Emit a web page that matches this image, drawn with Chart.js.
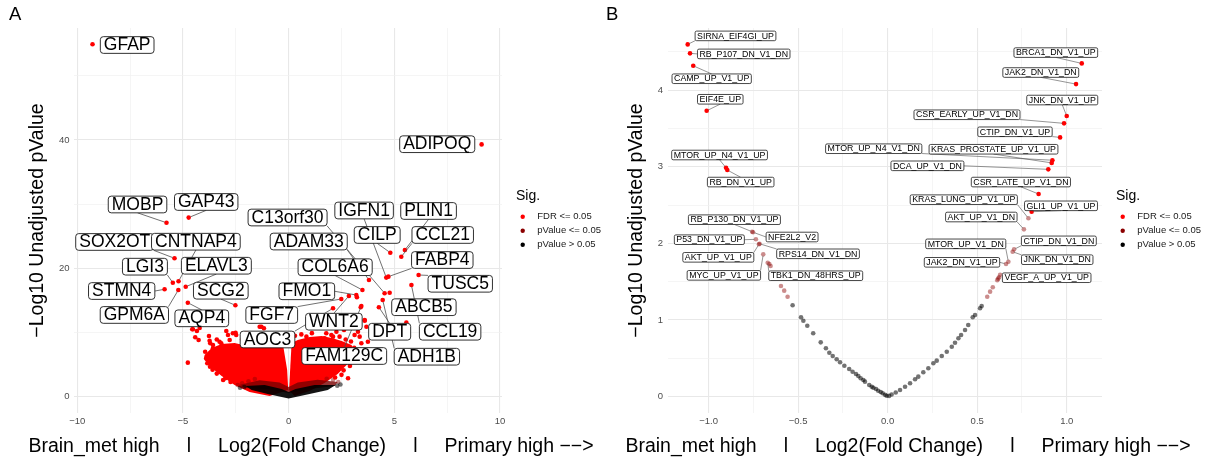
<!DOCTYPE html>
<html>
<head>
<meta charset="utf-8">
<script src="https://cdn.jsdelivr.net/npm/chart.js@4.4.1/dist/chart.umd.min.js"></script>
<style>
  html, body { margin: 0; padding: 0; background: #fff; }
  #wrap { position: relative; width: 1209px; height: 462px; overflow: hidden; }
  canvas { position: absolute; top: 0; }
  #volcA { left: 0; }
  #volcB { left: 604px; }
</style>
</head>
<body>
<div id="wrap">
  <canvas id="volcA" width="604" height="462"></canvas>
  <canvas id="volcB" width="605" height="462"></canvas>
</div>
<script>
// ---------------- panel A : genes ----------------
const geneNames = ['GFAP', 'ADIPOQ', 'MOBP', 'GAP43', 'SOX2OT', 'CNTNAP4', 'LGI3', 'ELAVL3', 'STMN4', 'GPM6A',
  'SCG2', 'AQP4', 'FGF7', 'AOC3', 'FMO1', 'WNT2', 'FAM129C', 'COL6A6', 'ADAM33', 'C13orf30',
  'IGFN1', 'FABP4', 'CILP', 'PLIN1', 'CCL21', 'TUSC5', 'ABCB5', 'CCL19', 'DPT', 'ADH1B'];
const geneFC = [-9.28, 9.13, -5.78, -4.73, -5.40, -5.21, -5.48, -4.87, -5.87, -5.22,
  -2.52, -4.77, 2.49, 2.10, 3.20, 2.85, 3.44, 3.49, 3.80, 4.54,
  4.62, 4.72, 4.81, 5.50, 5.33, 6.15, 4.78, 5.81, 4.27, 4.45];
const geneLogP = [54.9, 39.3, 27.1, 27.9, 21.56, 17.98, 17.76, 17.13, 16.73, 16.62,
  14.24, 14.64, 15.22, 13.77, 15.84, 15.69, 14.13, 16.62, 18.18, 16.11,
  18.55, 18.70, 22.43, 22.85, 21.81, 18.96, 16.20, 17.40, 13.93, 15.06];
// where the repelled label of each gene ended up (data units)
const geneTagFC = [-7.64, 7.03, -7.15, -3.90, -8.23, -4.39, -6.80, -3.42, -7.90, -7.30,
  -3.21, -4.11, -0.80, -1.00, 0.86, 2.14, 2.63, 2.20, 0.95, -0.05,
  3.57, 7.27, 4.19, 6.62, 7.29, 8.12, 6.40, 7.64, 4.78, 6.54];
const geneTagLogP = [54.78, 39.33, 29.94, 30.33, 24.10, 24.14, 20.25, 20.40, 16.46, 12.73,
  16.51, 12.21, 12.73, 8.91, 16.42, 11.68, 6.34, 20.17, 24.17, 27.91,
  29.00, 21.29, 25.19, 28.93, 25.19, 17.59, 13.94, 10.12, 10.12, 6.23];

// other FDR significant genes scattered round the dense cloud
const sigFC_A = [-4.56, -4.21, -4.42, -4.26, -3.77, -3.71, -3.58, -3.77, -3.72, -4.77, -3.27, -3.19, -2.95, -2.87,
  -2.51, -2.48, -3.00, -2.64, -1.29, -1.17, -4.34, -3.74, -3.42, -3.19, -2.79, -2.64, -2.00, -1.53, -1.22,
  -0.74, -1.37, -4.53, -3.58,
  -3.90, -3.85, -3.60, -3.40, -3.30, -3.50, -3.95, -3.40, -2.20, -1.80, -0.95, -0.50, -0.30, -2.90, -3.10, -2.75,
  2.02, 2.41, 2.62, 3.12, 3.36, 3.44, 3.68, 3.75, 3.60, 2.81, 3.41, 2.89, 2.26, 1.47, 0.84, 3.28, 5.57,
  0.84, 1.31, 1.70, 2.10, 1.78, 3.23, 3.60,
  0.30, 0.60, 1.10, 2.70, 2.95, 3.10, 3.20, 3.00, 2.90, 2.60, 2.50, 2.20];
const sigLogP_A = [10.50, 10.70, 9.25, 8.83, 9.45, 8.32, 7.54, 6.14, 4.67, 5.30, 8.57, 7.01, 10.23, 9.61,
  9.97, 9.61, 2.87, 6.23, 10.90, 10.65, 10.23, 8.72, 7.27, 8.32, 8.83, 9.88, 9.88, 8.57, 9.45,
  8.57, 10.90, 10.50, 8.05,
  6.00, 5.20, 4.20, 3.60, 4.40, 5.60, 7.00, 8.90, 8.90, 8.60, 8.90, 9.20, 8.80, 3.30, 2.60, 2.30,
  9.61, 9.35, 10.39, 9.61, 9.35, 8.32, 10.90, 8.57, 11.95, 2.87, 13.93, 11.17, 10.12, 8.83, 9.35, 10.12, 11.53,
  8.05, 8.83, 9.10, 9.35, 9.88, 15.48, 11.84,
  9.50, 9.70, 9.90, 8.90, 8.60, 7.60, 6.60, 5.80, 4.80, 4.10, 3.40, 3.00];
const pvFC_A = [-2.41, -2.20, -1.90, -1.60, 2.35, 2.10, 1.80];
const pvLogP_A = [1.82, 2.10, 2.40, 2.75, 2.30, 2.60, 2.80];
const nsFC_A = [-2.30, -2.10, 2.30, 2.45];
const nsLogP_A = [1.40, 1.50, 1.70, 1.90];

// outlines of the thousands of overlapping genes (too dense to tell apart)
const denseLeftFC = [-3.98, -3.64, -3.17, -2.56, -1.94, -1.37, -0.80, -0.28, -0.07, -0.02, -0.90, -1.85, -2.56, -3.17, -3.64, -3.98];
const denseLeftLogP = [6.50, 7.59, 8.21, 8.36, 7.90, 8.52, 8.36, 8.36, 4.16, 1.04, 0.10, 0.73, 1.82, 3.22, 4.47, 5.72];
const denseRightFC = [0.02, 0.07, 0.14, 0.43, 0.99, 1.56, 2.04, 2.51, 2.98, 3.08, 2.79, 2.32, 1.70, 0.99, 0.28];
const denseRightLogP = [1.04, 4.16, 8.36, 8.83, 9.30, 9.45, 9.14, 8.68, 8.05, 6.96, 5.09, 3.54, 2.13, 0.89, 0.10];
const densePvFC = [-2.32, -1.37, -0.43, 0, 0.43, 1.37, 2.32, 2.18, 0.99, 0, -0.99, -2.08];
const densePvLogP = [1.85, 2.55, 2.20, 1.50, 2.20, 2.65, 2.30, 1.67, 1.20, 0.58, 1.20, 1.36];
const denseNsFC = [-2.04, -1.14, -0.33, 0, 0.33, 1.23, 2.22, 1.85, 0.99, 0, -0.99, -1.75];
const denseNsLogP = [1.67, 1.82, 1.20, 0.73, 1.20, 1.82, 1.82, 1.04, 0.42, -0.28, 0.42, 1.04];

// ---------------- panel B : gene sets ----------------
const setNames = ['SIRNA_EIF4GI_UP', 'RB_P107_DN_V1_DN', 'CAMP_UP_V1_UP', 'EIF4E_UP', 'MTOR_UP_N4_V1_UP', 'RB_DN_V1_UP',
  'RB_P130_DN_V1_UP', 'NFE2L2_V2', 'P53_DN_V1_UP', 'AKT_UP_V1_UP', 'RPS14_DN_V1_DN', 'MYC_UP_V1_UP', 'TBK1_DN_48HRS_UP',
  'BRCA1_DN_V1_UP', 'JAK2_DN_V1_DN', 'JNK_DN_V1_UP', 'CSR_EARLY_UP_V1_DN', 'CTIP_DN_V1_UP', 'MTOR_UP_N4_V1_DN',
  'KRAS_PROSTATE_UP_V1_UP', 'DCA_UP_V1_DN', 'CSR_LATE_UP_V1_DN', 'GLI1_UP_V1_UP', 'KRAS_LUNG_UP_V1_UP', 'AKT_UP_V1_DN',
  'CTIP_DN_V1_DN', 'JNK_DN_V1_DN', 'MTOR_UP_V1_DN', 'JAK2_DN_V1_UP', 'VEGF_A_UP_V1_UP'];
const setFC = [-1.117, -1.104, -1.086, -1.011, -0.903, -0.896, -0.757, -0.752, -0.736, -0.719, -0.716, -0.695, -0.670,
  1.084, 1.052, 1.000, 0.985, 0.963, 0.920, 0.916, 0.897, 0.843, 0.804, 0.786, 0.761, 0.706, 0.698, 0.674, 0.661, 0.622];
const setLogP = [4.596, 4.479, 4.317, 3.730, 2.987, 2.957, 2.152, 2.145, 2.053, 1.988, 1.995, 1.857, 1.748,
  4.348, 4.078, 3.661, 3.566, 3.383, 3.085, 3.050, 2.966, 2.644, 2.413, 2.327, 2.183, 1.922, 1.891, 1.761, 1.731, 1.557];
const setSig = [0, 0, 0, 0, 0, 0, 1, 1, 1, 1, 1, 1, 1,
  0, 0, 0, 0, 0, 0, 0, 0, 0, 0, 1, 1, 1, 1, 1, 1, 1];   // 0 = FDR <= 0.05, 1 = pValue <= 0.05
const setTagFC = [-0.850, -0.804, -0.983, -0.935, -0.939, -0.821, -0.856, -0.534, -0.996, -0.946, -0.389, -0.915, -0.402,
  0.939, 0.855, 0.975, 0.443, 0.711, -0.078, 0.591, 0.222, 0.744, 0.968, 0.425, 0.523, 0.956, 0.947, 0.436, 0.415, 0.888];
const setTagLogP = [4.707, 4.472, 4.148, 3.880, 3.153, 2.800, 2.309, 2.083, 2.048, 1.818, 1.864, 1.583, 1.578,
  4.489, 4.229, 3.870, 3.678, 3.456, 3.235, 3.228, 3.012, 2.800, 2.490, 2.570, 2.344, 2.033, 1.787, 1.994, 1.753, 1.552];
const pvFC_B = [-0.661, -0.654, -0.596, -0.578, -0.559, 0.587, 0.572, 0.556, 0.617, 0.628, 0.612];
const pvLogP_B = [1.731, 1.705, 1.444, 1.383, 1.304, 1.427, 1.370, 1.304, 1.540, 1.590, 1.520];
const nsFC_B = [-0.531, -0.484, -0.471, -0.449, -0.416, -0.374, -0.345, -0.326, -0.307, -0.285, -0.266, -0.242, -0.215, -0.196,
  -0.177, -0.164, -0.151, -0.136, -0.127, -0.103, -0.089, -0.080, -0.065, -0.053, -0.039, -0.028, -0.015, -0.006,
  0.525, 0.516, 0.488, 0.475, 0.450, 0.432, 0.410, 0.395, 0.376, 0.358, 0.330, 0.302, 0.274, 0.255, 0.227, 0.199,
  0.171, 0.153, 0.125, 0.097, 0.069, 0.045, 0.022, 0.008];
const nsLogP_B = [1.192, 1.036, 0.991, 0.926, 0.827, 0.709, 0.631, 0.574, 0.531, 0.488, 0.449, 0.404, 0.361, 0.326,
  0.296, 0.270, 0.240, 0.218, 0.196, 0.153, 0.130, 0.117, 0.100, 0.078, 0.061, 0.044, 0.026, 0.013,
  1.183, 1.153, 1.066, 1.036, 0.935, 0.870, 0.805, 0.762, 0.704, 0.652, 0.587, 0.531, 0.470, 0.436, 0.370, 0.318,
  0.261, 0.227, 0.175, 0.130, 0.087, 0.055, 0.028, 0.010];

// axes
const gridA_x = [-10, -7.5, -5, -2.5, 0, 2.5, 5, 7.5, 10];
const majorA_x = [-10, -5, 0, 5, 10];
const gridA_y = [0, 10, 20, 30, 40, 50];
const majorA_y = [0, 20, 40];
const gridB_x = [-1, -0.75, -0.5, -0.25, 0, 0.25, 0.5, 0.75, 1];
const majorB_x = [-1, -0.5, 0, 0.5, 1];
const gridB_y = [0, 0.5, 1, 1.5, 2, 2.5, 3, 3.5, 4, 4.5];
const majorB_y = [0, 1, 2, 3, 4];
const sigLevels = ['FDR <= 0.05', 'pValue <= 0.05', 'pValue > 0.05'];
const xTitle = 'Brain_met high     l     Log2(Fold Change)     l     Primary high \u2212\u2212>';
const yTitle = '\u2212Log10 Unadjusted pValue';

// ---------------- drawing ----------------
const FONT = "'Liberation Sans', Arial, Helvetica, sans-serif";
const RED = '#ff0000', DARKRED = '#8b0000';
const sigColors = [RED, DARKRED, '#000000'];
Chart.defaults.font.family = FONT;

const pts = (xs, ys) => xs.map((v, i) => ({ x: v, y: ys[i] }));
const neg = v => (v < 0 ? '\u2212' : '') + Math.abs(v);

function blob(xs, ys, color, order) {
  return { type: 'line', data: pts(xs, ys), fill: 'shape', backgroundColor: color,
    borderColor: 'transparent', borderWidth: 0, pointRadius: 0, tension: 0, order: order };
}
function dots(xs, ys, color, r, order) {
  return { type: 'scatter', data: pts(xs, ys), backgroundColor: color, borderColor: color,
    borderWidth: 0, pointRadius: r, order: order };
}

function roundBox(ctx, x, y, w, h, r) {
  ctx.beginPath();
  ctx.moveTo(x + r, y);
  ctx.lineTo(x + w - r, y); ctx.arcTo(x + w, y, x + w, y + r, r);
  ctx.lineTo(x + w, y + h - r); ctx.arcTo(x + w, y + h, x + w - r, y + h, r);
  ctx.lineTo(x + r, y + h); ctx.arcTo(x, y + h, x, y + h - r, r);
  ctx.lineTo(x, y + r); ctx.arcTo(x, y, x + r, y, r);
  ctx.closePath();
}

// ggrepel-like boxed labels with leader segments
function repel(names, xs, ys, tx, ty, st) {
  return {
    id: 'repel',
    afterDatasetsDraw(chart) {
      const { ctx, scales: { x, y } } = chart;
      ctx.save();
      ctx.font = st.size + 'px ' + FONT;
      const boxes = names.map((t, i) => {
        const w = ctx.measureText(t).width + 2 * st.padX;
        const cx = x.getPixelForValue(tx[i]), cy = y.getPixelForValue(ty[i]);
        return { t, cx, cy, w, h: st.boxH, px: x.getPixelForValue(xs[i]), py: y.getPixelForValue(ys[i]) };
      });
      ctx.strokeStyle = '#4d4d4d';
      ctx.lineWidth = st.segW;
      boxes.forEach(b => {
        const x1 = b.cx - b.w / 2, x2 = b.cx + b.w / 2, y1 = b.cy - b.h / 2, y2 = b.cy + b.h / 2;
        if (b.px > x1 && b.px < x2 && b.py > y1 && b.py < y2) return;
        const sx = b.px < x1 ? x1 : (b.px > x2 ? x2 : b.cx);
        const sy = b.py < y1 ? y1 : (b.py > y2 ? y2 : b.cy);
        const len = Math.hypot(b.px - sx, b.py - sy);
        if (len - st.gap < st.minSeg) return;
        const k = (len - st.gap) / len;
        ctx.beginPath();
        ctx.moveTo(sx, sy);
        ctx.lineTo(sx + (b.px - sx) * k, sy + (b.py - sy) * k);
        ctx.stroke();
      });
      ctx.textAlign = 'center';
      ctx.textBaseline = 'middle';
      boxes.forEach(b => {
        roundBox(ctx, b.cx - b.w / 2, b.cy - b.h / 2, b.w, b.h, st.radius);
        ctx.fillStyle = '#fff';
        ctx.fill();
        ctx.lineWidth = st.border;
        ctx.strokeStyle = '#1a1a1a';
        ctx.stroke();
        ctx.fillStyle = '#000';
        ctx.fillText(b.t, b.cx, b.cy + 0.3);
      });
      ctx.restore();
    }
  };
}

// panel tag, long x title and the "Sig." key
function decor(tag, tagX) {
  return {
    id: 'decor',
    afterDraw(chart) {
      const { ctx, chartArea: ca } = chart;
      ctx.save();
      ctx.fillStyle = '#000';
      ctx.textBaseline = 'middle';
      ctx.textAlign = 'left';
      ctx.font = '18.5px ' + FONT;
      ctx.fillText(tag, tagX, 15);
      ctx.textAlign = 'center';
      ctx.font = '19.5px ' + FONT;
      ctx.fillText(xTitle, (ca.left + ca.right) / 2 + 23, 446.7);
      ctx.textAlign = 'left';
      ctx.font = '14px ' + FONT;
      ctx.fillText('Sig.', ca.right + 14, 196);
      ctx.font = '9.5px ' + FONT;
      sigLevels.forEach((lab, i) => {
        const yy = 216.7 + i * 14;
        ctx.fillStyle = sigColors[i];
        ctx.beginPath();
        ctx.arc(ca.right + 20.7, yy, 2.2, 0, Math.PI * 2);
        ctx.fill();
        ctx.fillStyle = '#1a1a1a';
        ctx.fillText(lab, ca.right + 35.3, yy);
      });
      ctx.restore();
    }
  };
}

function gridOpts(major) {
  return {
    drawTicks: false,
    color: c => (c.tick && major.includes(c.tick.value)) ? '#e8e8e8' : '#f0f0f0',
    lineWidth: c => (c.tick && major.includes(c.tick.value)) ? 1.1 : 0.7
  };
}

function volcano(id, s) {
  return new Chart(document.getElementById(id), {
    type: 'scatter',
    data: { datasets: s.datasets },
    options: {
      responsive: false,
      animation: false,
      events: [],
      layout: { padding: { left: 0, top: 28, right: s.padRight, bottom: 0 } },
      plugins: { legend: { display: false }, tooltip: { enabled: false } },
      scales: {
        x: {
          type: 'linear', min: s.xMin, max: s.xMax,
          afterBuildTicks: sc => { sc.ticks = s.xGrid.map(v => ({ value: v })); },
          afterFit: sc => { sc.height = 49; },
          grid: gridOpts(s.xMajor),
          border: { display: false },
          ticks: { autoSkip: false, maxRotation: 0, padding: 3, color: '#4d4d4d', font: { size: 9.5 },
            callback: v => s.xMajor.includes(v) ? s.xFmt(v) : '' }
        },
        y: {
          type: 'linear', min: s.yMin, max: s.yMax,
          afterBuildTicks: sc => { sc.ticks = s.yGrid.map(v => ({ value: v })); },
          afterFit: sc => { sc.width = s.yAxisW; },
          grid: gridOpts(s.yMajor),
          border: { display: false },
          ticks: { autoSkip: false, padding: s.yTickPad, color: '#4d4d4d', font: { size: 9.5 },
            callback: v => s.yMajor.includes(v) ? String(v) : '' },
          title: { display: true, text: yTitle, color: '#000', font: { size: 19.5 },
            padding: { top: s.yTitlePad, bottom: 0 } }
        }
      }
    },
    plugins: s.plugins
  });
}

// panel A
volcano('volcA', {
  xMin: -10.156, xMax: 10.095, yMin: -2.54, yMax: 57.43,
  xGrid: gridA_x, xMajor: majorA_x, yGrid: gridA_y, yMajor: majorA_y,
  xFmt: neg, yAxisW: 74, yTickPad: 4.5, yTitlePad: 25.8, padRight: 102,
  datasets: [
    blob(denseLeftFC, denseLeftLogP, RED, 40),
    blob(denseRightFC, denseRightLogP, RED, 40),
    blob(densePvFC, densePvLogP, 'rgba(120,0,0,0.8)', 35),
    blob(denseNsFC, denseNsLogP, 'rgba(0,0,0,0.92)', 30),
    dots(pvFC_A, pvLogP_A, 'rgba(139,0,0,0.45)', 2.3, 20),
    dots(nsFC_A, nsLogP_A, 'rgba(0,0,0,0.55)', 2.3, 19),
    dots(sigFC_A, sigLogP_A, RED, 2.3, 10),
    dots(geneFC, geneLogP, RED, 2.3, 0)
  ],
  plugins: [
    repel(geneNames, geneFC, geneLogP, geneTagFC, geneTagLogP,
      { size: 17.5, padX: 3.5, boxH: 16.7, radius: 3, border: 0.9, segW: 0.8, gap: 2, minSeg: 6.2 }),
    decor('A', 9)
  ]
});

// panel B
volcano('volcB', {
  xMin: -1.227, xMax: 1.197, yMin: -0.213, yMax: 4.81,
  xGrid: gridB_x, xMajor: majorB_x, yGrid: gridB_y, yMajor: majorB_y,
  xFmt: v => (v < 0 ? '\u2212' : '') + Math.abs(v).toFixed(1),
  yAxisW: 64, yTickPad: 5, yTitlePad: 20.5, padRight: 107,
  datasets: [
    dots(nsFC_B, nsLogP_B, 'rgba(0,0,0,0.55)', 2.3, 20),
    dots(pvFC_B, pvLogP_B, 'rgba(139,0,0,0.45)', 2.3, 15),
    {
      type: 'scatter', data: pts(setFC, setLogP), order: 0, pointRadius: 2.3, borderWidth: 0,
      backgroundColor: c => setSig[c.dataIndex] === 0 ? RED : 'rgba(139,0,0,0.45)',
      borderColor: c => setSig[c.dataIndex] === 0 ? RED : 'rgba(139,0,0,0.45)'
    }
  ],
  plugins: [
    repel(setNames, setFC, setLogP, setTagFC, setTagLogP,
      { size: 8.8, padX: 2, boxH: 9.6, radius: 1.5, border: 0.8, segW: 0.6, gap: 1.5, minSeg: 3 }),
    decor('B', 2)
  ]
});
</script>
</body>
</html>
